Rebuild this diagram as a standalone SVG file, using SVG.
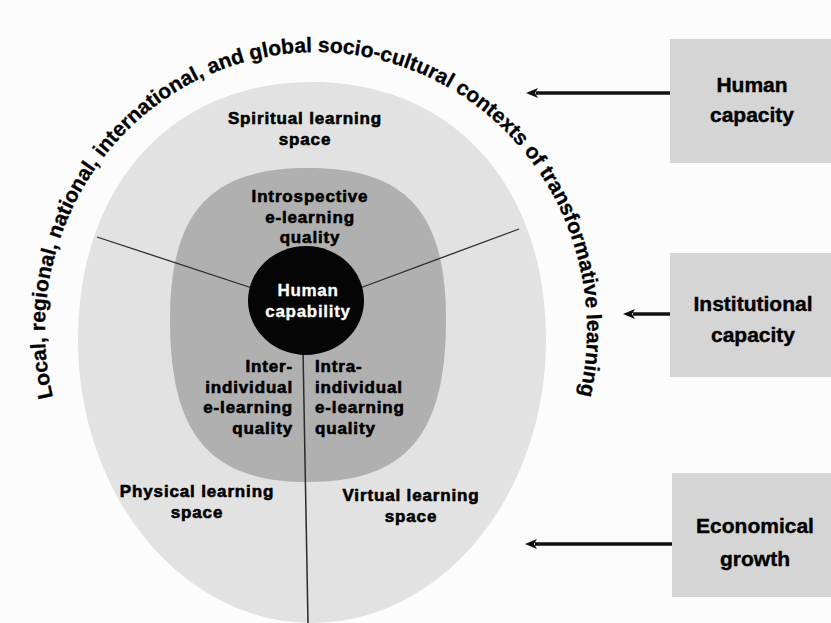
<svg xmlns="http://www.w3.org/2000/svg" width="831" height="623" viewBox="0 0 831 623">
  <style>
    text { font-family: "Liberation Sans", Arial, sans-serif; font-weight: bold; }
    .lbl { font-size: 17px; letter-spacing: 0.85px; fill: #000; stroke: #000; stroke-width: 0.6; }
    .mid { text-anchor: middle; }
    .end { text-anchor: end; }
    .white { font-size: 17px; letter-spacing: 0.7px; fill: #fff; stroke: #fff; stroke-width: 0.3; text-anchor: middle; }
    .box { fill: #d5d5d5; }
    .boxt { font-size: 21px; fill: #000; stroke: #000; stroke-width: 0.4; text-anchor: middle; }
    .ctx { font-size: 21px; fill: #000; stroke: #000; stroke-width: 0.3; }
    .div { stroke: #2a2a2a; stroke-width: 1.3; fill: none; }
    .arrow { stroke: #111; stroke-width: 3.5; fill: none; }
  </style>
  <defs>
    <marker id="ah" viewBox="0 0 12 10" markerWidth="12" markerHeight="10" markerUnits="userSpaceOnUse" refX="2" refY="5" orient="auto">
      <path d="M0,0 L12,5 L0,10 L3,5 Z" fill="#111"/>
    </marker>
    <path id="ctxArc" d="M 53.7 400 A 271 278 0 1 1 578.3 400"/>
  </defs>

  <rect x="0" y="0" width="831" height="623" fill="#fcfcfc"/>

  <g id="learning-spaces">
    <path d="M 78 340 C 78 185.2 171.6 82 312 82 C 452.4 82 546 185.2 546 340 A 234 283 0 0 1 78 340 Z" fill="#e2e2e2"/>
    <text class="lbl mid" x="305" y="124">Spiritual learning<tspan x="305" dy="20.5">space</tspan></text>
    <text class="lbl mid" x="197" y="497">Physical learning<tspan x="197" dy="20.5">space</tspan></text>
    <text class="lbl mid" x="411" y="501">Virtual learning<tspan x="411" dy="20.5">space</tspan></text>
  </g>

  <g id="elearning-quality">
    <path d="M 170 320 C 170 212.1 210 168 308 168 C 406 168 446 212.1 446 320 C 446 435 406 482 308 482 C 210 482 170 435 170 320 Z" fill="#b0b0b0"/>
    <text class="lbl mid" x="310" y="202">Introspective<tspan x="310" dy="20.5">e-learning</tspan><tspan x="310" dy="20.5">quality</tspan></text>
    <text class="lbl end" x="293" y="372">Inter-<tspan x="293" dy="20.7">individual</tspan><tspan x="293" dy="20.7">e-learning</tspan><tspan x="293" dy="20.7">quality</tspan></text>
    <text class="lbl" x="315" y="372">Intra-<tspan x="315" dy="20.7">individual</tspan><tspan x="315" dy="20.7">e-learning</tspan><tspan x="315" dy="20.7">quality</tspan></text>
  </g>

  <g id="dividers">
    <line class="div" x1="97" y1="237" x2="252" y2="288"/>
    <line class="div" x1="519" y1="229" x2="360" y2="288"/>
    <line class="div" x1="303" y1="350" x2="308" y2="623" style="stroke-width:1.5"/>
  </g>

  <g id="human-capability">
    <ellipse cx="306" cy="300.5" rx="58" ry="54.5" fill="#050505"/>
    <text class="white" x="308" y="296">Human<tspan x="308" dy="20.5">capability</tspan></text>
  </g>

  <g id="contexts">
    <text class="ctx"><textPath href="#ctxArc" startOffset="3">Local,</textPath></text>
    <text class="ctx"><textPath href="#ctxArc" startOffset="69.5">regional,</textPath></text>
    <text class="ctx"><textPath href="#ctxArc" startOffset="162.9">national,</textPath></text>
    <text class="ctx"><textPath href="#ctxArc" startOffset="255.1">international,</textPath></text>
    <text class="ctx"><textPath href="#ctxArc" startOffset="392.6">and</textPath></text>
    <text class="ctx"><textPath href="#ctxArc" startOffset="435.7">global</textPath></text>
    <text class="ctx"><textPath href="#ctxArc" startOffset="503.4">socio-cultural</textPath></text>
    <text class="ctx"><textPath href="#ctxArc" startOffset="647">contexts</textPath></text>
    <text class="ctx"><textPath href="#ctxArc" startOffset="739.2">of</textPath></text>
    <text class="ctx"><textPath href="#ctxArc" startOffset="764.8">transformative</textPath></text>
    <text class="ctx"><textPath href="#ctxArc" startOffset="916.5">learning</textPath></text>
  </g>

  <g id="human-capacity">
    <rect class="box" x="670" y="39" width="161" height="124"/>
    <text class="boxt" x="752" y="92">Human<tspan x="752" dy="30">capacity</tspan></text>
  </g>

  <g id="institutional-capacity">
    <rect class="box" x="670" y="253" width="161" height="124"/>
    <text class="boxt" x="753" y="311">Institutional<tspan x="753" dy="31">capacity</tspan></text>
  </g>

  <g id="economical-growth">
    <rect class="box" x="672" y="473" width="159" height="124"/>
    <text class="boxt" x="755" y="533">Economical<tspan x="755" dy="33">growth</tspan></text>
  </g>

  <g id="connectors">
    <line class="arrow" x1="670" y1="93" x2="536" y2="93" marker-end="url(#ah)"/>
    <line class="arrow" x1="670" y1="314" x2="633" y2="314" marker-end="url(#ah)"/>
    <line class="arrow" x1="672" y1="544" x2="535" y2="544" marker-end="url(#ah)"/>
  </g>
</svg>
